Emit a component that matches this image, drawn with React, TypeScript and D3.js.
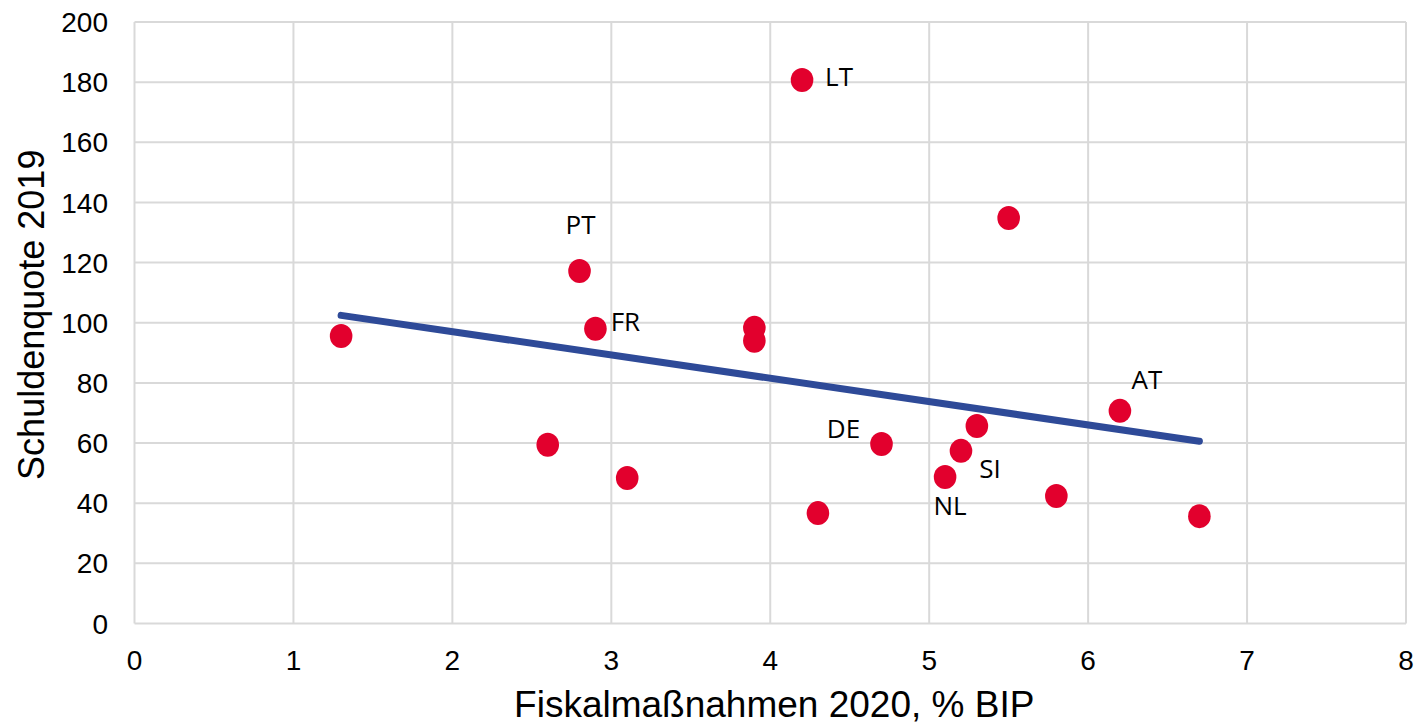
import React, { useRef, useEffect } from "react";
import * as d3 from "d3";

// Fiscal measures 2020 (% of GDP) vs debt ratio 2019
const fiscal = [1.3, 2.6, 2.8, 2.9, 3.1, 3.9, 3.9, 4.2, 4.3, 4.7, 5.1, 5.2, 5.3, 5.5, 5.8, 6.2, 6.7];
const debt = [95.6, 59.4, 117.2, 98.0, 48.4, 98.3, 94.0, 180.7, 36.7, 59.7, 48.7, 57.4, 65.7, 134.8, 42.4, 70.7, 35.7];
const codes = ["", "", "PT", "FR", "", "", "", "LT", "", "DE", "NL", "SI", "", "", "", "AT", ""];

const xTicks = [0, 1, 2, 3, 4, 5, 6, 7, 8];
const yTicks = [0, 20, 40, 60, 80, 100, 120, 140, 160, 180, 200];

const xTitle = "Fiskalmaßnahmen 2020, % BIP";
const yTitle = "Schuldenquote 2019";

// label placement relative to the dot (px)
const labelOffset: Record<string, [number, number]> = {
  LT: [37, -3],
  PT: [1, -46],
  FR: [30, -7],
  AT: [27, -31],
  DE: [-38, -15],
  SI: [29, 18],
  NL: [5, 29],
};

export default function App() {
  const svgRef = useRef<SVGSVGElement>(null);

  useEffect(() => {
    const svg = d3.select(svgRef.current);
    svg.selectAll("*").remove();

    const x = d3.scaleLinear().domain([0, 8]).range([134.5, 1406]);
    const y = d3.scaleLinear().domain([0, 200]).range([623.5, 22]);

    const grid = "#d9d9d9";
    const tickFont = "'Liberation Sans', Arial, sans-serif";

    // gridlines
    svg
      .append("g")
      .selectAll("line")
      .data(yTicks)
      .enter()
      .append("line")
      .attr("x1", x(0))
      .attr("x2", x(8))
      .attr("y1", (d) => y(d))
      .attr("y2", (d) => y(d))
      .style("stroke", grid)
      .style("stroke-width", 2);

    svg
      .append("g")
      .selectAll("line")
      .data(xTicks)
      .enter()
      .append("line")
      .attr("x1", (d) => x(d))
      .attr("x2", (d) => x(d))
      .attr("y1", y(0))
      .attr("y2", y(200))
      .style("stroke", grid)
      .style("stroke-width", 2);

    // tick labels
    svg
      .append("g")
      .selectAll("text")
      .data(yTicks)
      .enter()
      .append("text")
      .attr("x", 108)
      .attr("y", (d) => y(d))
      .attr("dy", "0.36em")
      .attr("text-anchor", "end")
      .style("font-family", tickFont)
      .style("font-size", "28px")
      .style("fill", "#000")
      .text((d) => d);

    svg
      .append("g")
      .selectAll("text")
      .data(xTicks)
      .enter()
      .append("text")
      .attr("x", (d) => x(d))
      .attr("y", 670)
      .attr("text-anchor", "middle")
      .style("font-family", tickFont)
      .style("font-size", "28px")
      .style("fill", "#000")
      .text((d) => d);

    // axis titles
    svg
      .append("text")
      .attr("x", (x(0) + x(8)) / 2 + 4)
      .attr("y", 717)
      .attr("text-anchor", "middle")
      .style("font-family", tickFont)
      .style("font-size", "37px")
      .text(xTitle);

    svg
      .append("text")
      .attr("transform", `translate(44,${(y(0) + y(200)) / 2 - 8}) rotate(-90)`)
      .attr("text-anchor", "middle")
      .style("font-family", tickFont)
      .style("font-size", "36px")
      .text(yTitle);

    // linear trend (least squares)
    const mx = d3.mean(fiscal)!;
    const my = d3.mean(debt)!;
    const sxy = d3.sum(fiscal, (v, i) => (v - mx) * (debt[i] - my));
    const sxx = d3.sum(fiscal, (v) => (v - mx) * (v - mx));
    const slope = sxy / sxx;
    const [x0, x1] = d3.extent(fiscal) as [number, number];
    const trend = [x0, x1].map((v) => [v, my + slope * (v - mx)] as [number, number]);

    svg
      .append("path")
      .datum(trend)
      .attr(
        "d",
        d3
          .line<[number, number]>()
          .x((d) => x(d[0]))
          .y((d) => y(d[1]))
      )
      .style("fill", "none")
      .style("stroke", "#2e4a98")
      .style("stroke-width", 7)
      .style("stroke-linecap", "round");

    // points
    svg
      .append("g")
      .selectAll("ellipse")
      .data(fiscal)
      .enter()
      .append("ellipse")
      .attr("cx", (d) => x(d))
      .attr("cy", (d, i) => y(debt[i]))
      .attr("rx", 11.3)
      .attr("ry", 12)
      .style("fill", "#e2002d");

    // country labels
    svg
      .append("g")
      .selectAll("text")
      .data(fiscal.map((v, i) => ({ v, d: debt[i], c: codes[i] })).filter((p) => p.c))
      .enter()
      .append("text")
      .attr("x", (p) => x(p.v) + labelOffset[p.c][0])
      .attr("y", (p) => y(p.d) + labelOffset[p.c][1])
      .attr("dy", "0.36em")
      .attr("text-anchor", "middle")
      .style("font-family", "'Open Sans', 'Noto Sans', sans-serif")
      .style("font-size", "26px")
      .style("fill", "#000")
      .text((p) => p.c);
  }, []);

  return (
    <svg
      ref={svgRef}
      width={1416}
      height={724}
      style={{ position: "absolute", left: 0, top: 0, background: "#fff" }}
    />
  );
}
